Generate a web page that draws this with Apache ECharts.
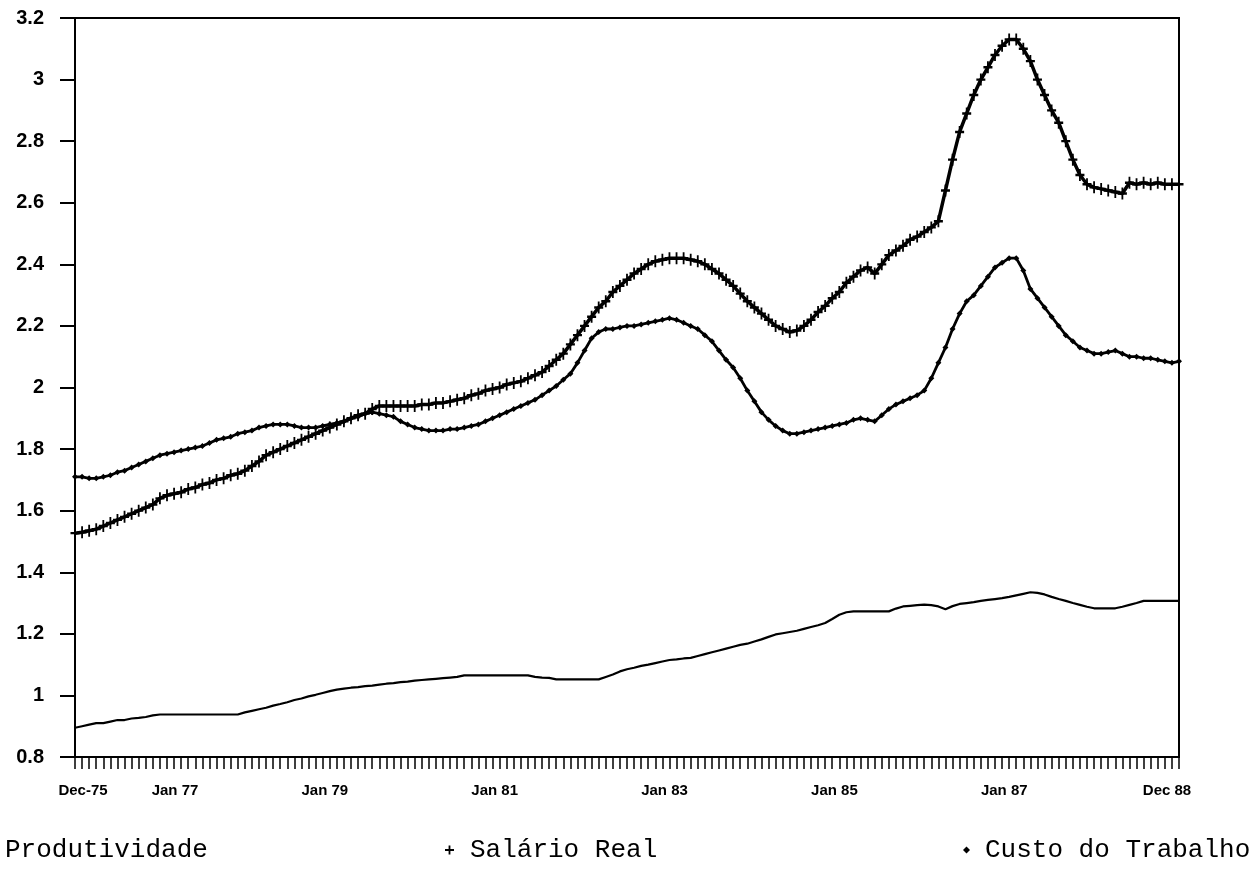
<!DOCTYPE html>
<html>
<head>
<meta charset="utf-8">
<title>Produtividade, Salário Real e Custo do Trabalho</title>
<script src="https://cdn.jsdelivr.net/npm/echarts@6/dist/echarts.min.js"></script>
<style>
	html, body { margin: 0; padding: 0; background: #fff; }
	#chart { width: 1256px; height: 873px; }
</style>
</head>
<body>
<div id="chart"></div>
<script>
	// eixo x: meses de Dec-75 a Dec-88
	var monthNames = ['Jan', 'Feb', 'Mar', 'Apr', 'May', 'Jun', 'Jul', 'Aug', 'Sep', 'Oct', 'Nov', 'Dec']
	var months = []
	for (var i = 0; i < 157; i++) {
		var m = (11 + i) % 12
		var y = 75 + Math.floor((11 + i) / 12)
		months.push(monthNames[m] + '-' + y)
	}

	// rotulos do eixo x (indice do mes -> texto)
	var tickIdx = [0, 13, 37, 61, 85, 109, 133, 156]
	var tickText = ['Dec-75', 'Jan 77', 'Jan 79', 'Jan 81', 'Jan 83', 'Jan 85', 'Jan 87', 'Dec 88']
	var tickStyle = ['l', 'l', 'r', 'r', 'r', 'r', 'r', 'r']

	var produtividade = [
		0.895, 0.900, 0.905, 0.910, 0.910, 0.915, 0.920, 0.920, 0.925, 0.927,
		0.930, 0.935, 0.938, 0.938, 0.938, 0.938, 0.938, 0.938, 0.938, 0.938,
		0.938, 0.938, 0.938, 0.938, 0.945, 0.950, 0.955, 0.960, 0.967, 0.972,
		0.978, 0.985, 0.990, 0.997, 1.002, 1.008, 1.014, 1.019, 1.022, 1.025,
		1.027, 1.030, 1.032, 1.035, 1.038, 1.040, 1.043, 1.045, 1.048, 1.050,
		1.052, 1.054, 1.056, 1.058, 1.060, 1.065, 1.065, 1.065, 1.065, 1.065,
		1.065, 1.065, 1.065, 1.065, 1.065, 1.060, 1.058, 1.057, 1.052, 1.052,
		1.052, 1.052, 1.052, 1.052, 1.052, 1.060, 1.068, 1.078, 1.085, 1.090,
		1.096, 1.100, 1.105, 1.110, 1.115, 1.117, 1.120, 1.122, 1.128, 1.134,
		1.140, 1.146, 1.152, 1.158, 1.164, 1.168, 1.175, 1.182, 1.190, 1.198,
		1.202, 1.206, 1.210, 1.216, 1.222, 1.228, 1.235, 1.248, 1.262, 1.270,
		1.273, 1.273, 1.273, 1.273, 1.273, 1.273, 1.282, 1.289, 1.291, 1.293,
		1.295, 1.293, 1.289, 1.280, 1.290, 1.297, 1.300, 1.303, 1.307, 1.310,
		1.313, 1.316, 1.320, 1.325, 1.330, 1.335, 1.333, 1.328, 1.320, 1.313,
		1.307, 1.300, 1.294, 1.288, 1.283, 1.283, 1.283, 1.283, 1.288, 1.294,
		1.300, 1.307, 1.307, 1.307, 1.307, 1.307, 1.307
	]

	var salarioReal = [
		1.527, 1.530, 1.535, 1.540, 1.550, 1.560, 1.570, 1.580, 1.590, 1.600,
		1.610, 1.620, 1.640, 1.650, 1.655, 1.660, 1.670, 1.675, 1.685, 1.690,
		1.700, 1.705, 1.715, 1.720, 1.730, 1.745, 1.760, 1.780, 1.790, 1.800,
		1.810, 1.820, 1.830, 1.840, 1.850, 1.860, 1.870, 1.880, 1.890, 1.900,
		1.910, 1.915, 1.930, 1.940, 1.940, 1.940, 1.940, 1.940, 1.940, 1.945,
		1.945, 1.950, 1.950, 1.955, 1.960, 1.965, 1.975, 1.980, 1.990, 1.995,
		2.000, 2.010, 2.015, 2.020, 2.030, 2.040, 2.050, 2.070, 2.090, 2.110,
		2.140, 2.170, 2.200, 2.230, 2.260, 2.280, 2.310, 2.330, 2.350, 2.370,
		2.385, 2.400, 2.410, 2.415, 2.420, 2.420, 2.420, 2.415, 2.410, 2.400,
		2.385, 2.370, 2.350, 2.330, 2.305, 2.280, 2.260, 2.240, 2.220, 2.200,
		2.190, 2.180, 2.185, 2.200, 2.220, 2.245, 2.265, 2.290, 2.310, 2.340,
		2.360, 2.380, 2.390, 2.370, 2.400, 2.430, 2.445, 2.460, 2.480, 2.490,
		2.505, 2.520, 2.540, 2.640, 2.740, 2.830, 2.890, 2.950, 3.000, 3.040,
		3.080, 3.110, 3.130, 3.130, 3.100, 3.060, 3.000, 2.950, 2.900, 2.860,
		2.800, 2.740, 2.690, 2.660, 2.650, 2.645, 2.640, 2.635, 2.630, 2.665,
		2.660, 2.665, 2.660, 2.665, 2.660, 2.660, 2.660
	]

	var custoTrabalho = [
		1.710, 1.710, 1.705, 1.705, 1.710, 1.715, 1.725, 1.730, 1.740, 1.750,
		1.760, 1.770, 1.780, 1.785, 1.790, 1.795, 1.800, 1.805, 1.810, 1.820,
		1.830, 1.835, 1.840, 1.850, 1.855, 1.860, 1.870, 1.875, 1.880, 1.880,
		1.880, 1.875, 1.870, 1.870, 1.870, 1.875, 1.880, 1.885, 1.890, 1.900,
		1.905, 1.915, 1.920, 1.915, 1.910, 1.905, 1.890, 1.880, 1.870, 1.865,
		1.860, 1.860, 1.860, 1.865, 1.865, 1.870, 1.875, 1.880, 1.890, 1.900,
		1.910, 1.920, 1.930, 1.940, 1.950, 1.960, 1.975, 1.990, 2.005, 2.025,
		2.045, 2.080, 2.120, 2.160, 2.180, 2.190, 2.190, 2.195, 2.200, 2.200,
		2.205, 2.210, 2.215, 2.220, 2.225, 2.220, 2.210, 2.200, 2.190, 2.170,
		2.150, 2.120, 2.090, 2.065, 2.030, 1.990, 1.955, 1.920, 1.895, 1.875,
		1.860, 1.850, 1.850, 1.855, 1.860, 1.865, 1.870, 1.875, 1.880, 1.885,
		1.895, 1.900, 1.895, 1.890, 1.910, 1.930, 1.945, 1.955, 1.965, 1.975,
		1.990, 2.030, 2.080, 2.130, 2.190, 2.240, 2.280, 2.300, 2.330, 2.360,
		2.390, 2.405, 2.420, 2.420, 2.380, 2.320, 2.290, 2.260, 2.230, 2.200,
		2.170, 2.150, 2.130, 2.120, 2.110, 2.110, 2.115, 2.120, 2.110, 2.100,
		2.100, 2.095, 2.095, 2.090, 2.085, 2.080, 2.085
	]

	var plusIcon = 'path://M4,0H6V4H10V6H6V10H4V6H0V4H4Z'
	var legendText = { fontFamily: 'Liberation Mono', fontSize: 26, color: '#000' }
	var axisFont = { fontFamily: 'Liberation Sans', fontWeight: 'bold', color: '#000' }

	var chart = echarts.init(document.getElementById('chart'))
	chart.setOption({
		animation: false,
		backgroundColor: '#fff',
		grid: {
			left: 75, right: 77, top: 18, bottom: 116,
			show: true, borderColor: '#000', borderWidth: 2
		},
		legend: [
			{
				data: [{ name: 'Produtividade', icon: 'rect', itemStyle: { color: 'rgba(0,0,0,0)' } }],
				left: -6, top: 832, itemWidth: 1, itemHeight: 1,
				textStyle: legendText
			},
			{
				data: [{ name: 'Salário Real', icon: plusIcon }],
				left: 440, top: 832, itemWidth: 9, itemHeight: 9,
				textStyle: Object.assign({ padding: [0, 0, 0, 11] }, legendText)
			},
			{
				data: [{ name: 'Custo do Trabalho', icon: 'diamond' }],
				left: 958, top: 832, itemWidth: 7, itemHeight: 7,
				textStyle: Object.assign({ padding: [0, 0, 0, 10] }, legendText)
			}
		],
		xAxis: {
			type: 'category',
			boundaryGap: false,
			data: months,
			axisLine: { lineStyle: { color: '#000', width: 2 } },
			axisTick: { interval: 0, length: 12, lineStyle: { color: '#000', width: 1.5 } },
			axisLabel: Object.assign({
				interval: function (idx) { return tickIdx.indexOf(idx) >= 0 },
				formatter: function (val, idx) {
					var k = tickIdx.indexOf(idx)
					return k >= 0 ? '{' + tickStyle[k] + '|' + tickText[k] + '}' : ''
				},
				rich: {
					l: { padding: [0, 0, 0, 16], fontSize: 15, fontWeight: 'bold', fontFamily: 'Liberation Sans', color: '#000' },
					r: { padding: [0, 24, 0, 0], fontSize: 15, fontWeight: 'bold', fontFamily: 'Liberation Sans', color: '#000' }
				},
				margin: 26,
				fontSize: 15
			}, axisFont),
			splitLine: { show: false }
		},
		yAxis: {
			type: 'value',
			min: 0.8,
			max: 3.2,
			interval: 0.2,
			axisLine: { show: true, lineStyle: { color: '#000', width: 2 } },
			axisTick: { show: true, length: 15, lineStyle: { color: '#000', width: 2 } },
			axisLabel: Object.assign({ margin: 31, fontSize: 20 }, axisFont),
			splitLine: { show: false }
		},
		series: [
			{
				name: 'Produtividade',
				type: 'line',
				data: produtividade,
				symbol: 'none',
				itemStyle: { color: '#000' },
				lineStyle: { color: '#000', width: 2.2 }
			},
			{
				name: 'Salário Real',
				type: 'line',
				data: salarioReal,
				symbol: plusIcon,
				symbolSize: [9, 12],
				showAllSymbol: true,
				itemStyle: { color: '#000' },
				lineStyle: { color: '#000', width: 3.5 }
			},
			{
				name: 'Custo do Trabalho',
				type: 'line',
				data: custoTrabalho,
				symbol: 'diamond',
				symbolSize: 6,
				showAllSymbol: true,
				itemStyle: { color: '#000' },
				lineStyle: { color: '#000', width: 2.8 }
			}
		]
	})
</script>
</body>
</html>
